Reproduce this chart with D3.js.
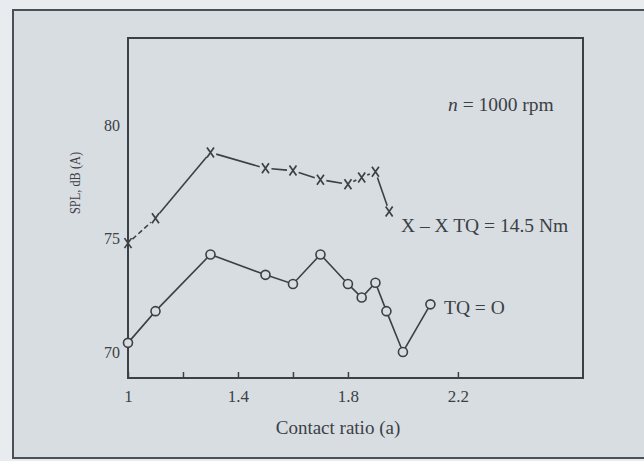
<!DOCTYPE html>
<html>
<head>
<meta charset="utf-8">
<script src="https://cdn.jsdelivr.net/npm/d3@7"></script>
<style>
  body { margin: 0; background: #e9ecee; }
  svg text { font-family: "Liberation Serif", "DejaVu Serif", serif; fill: #3b4046; }
</style>
</head>
<body>
<svg id="chart" width="644" height="461"></svg>
<script>
// contact ratio values for each series
const ratiosNoLoad = [1.0, 1.1, 1.3, 1.5, 1.6, 1.7, 1.8, 1.85, 1.9, 1.94, 2.0, 2.1];
const splNoLoad = [70.4, 71.8, 74.3, 73.4, 73.0, 74.3, 73.0, 72.4, 73.05, 71.8, 70.0, 72.1];

const ratiosLoaded = [1.0, 1.1, 1.3, 1.5, 1.6, 1.7, 1.8, 1.85, 1.9, 1.95];
const splLoaded = [74.8, 75.9, 78.8, 78.1, 78.0, 77.6, 77.4, 77.7, 77.95, 76.2];

const xTicks = [1, 1.2, 1.4, 1.6, 1.8, 2.2];
const xLabels = ["1", "", "1.4", "", "1.8", "2.2"];
const yTicks = [70, 75, 80];

const svg = d3.select("#chart");
const bg = "#d8dde1";
const ink = "#3b4046";

// page frame
svg.append("rect")
  .attr("x", 13).attr("y", 10)
  .attr("width", 660).attr("height", 448)
  .attr("fill", bg)
  .attr("stroke", "#4b5056")
  .attr("stroke-width", 2);

const x = d3.scaleLinear().domain([1, 2.655]).range([128, 583]);
const y = d3.scaleLinear().domain([68.85, 83.85]).range([378, 38]);

// plot box
svg.append("rect")
  .attr("x", x(1)).attr("y", y(83.85))
  .attr("width", x(2.655) - x(1)).attr("height", y(68.85) - y(83.85))
  .attr("fill", "none")
  .attr("stroke", ink)
  .attr("stroke-width", 2);

// x axis, ticks pointing inward
const xAxis = svg.append("g")
  .attr("transform", `translate(0,${y(68.85)})`)
  .call(d3.axisBottom(x).tickValues(xTicks).tickSize(-6).tickPadding(12)
    .tickFormat((d, i) => xLabels[i]));
xAxis.select(".domain").remove();
xAxis.selectAll("line").attr("stroke", ink).attr("stroke-width", 1.5);
xAxis.selectAll("text").attr("font-size", 17).attr("font-family", "Liberation Serif");

// y axis labels only
const yAxis = svg.append("g")
  .attr("transform", `translate(${x(1)},0)`)
  .call(d3.axisLeft(y).tickValues(yTicks).tickSize(0).tickPadding(8));
yAxis.select(".domain").remove();
yAxis.selectAll("text").attr("font-size", 16).attr("font-family", "Liberation Serif");

// axis titles
svg.append("text")
  .attr("x", 338).attr("y", 434)
  .attr("text-anchor", "middle")
  .attr("font-size", 19)
  .text("Contact ratio (a)");

svg.append("text")
  .attr("transform", "translate(80,183) rotate(-90)")
  .attr("text-anchor", "middle")
  .attr("font-size", 15)
  .attr("textLength", 62)
  .attr("lengthAdjust", "spacingAndGlyphs")
  .text("SPL, dB (A)");

// loaded series: segments with gaps around the crosses
const loaded = ratiosLoaded.map((r, i) => ({ x: x(r), y: y(splLoaded[i]) }));
const gap = 6;
for (let i = 0; i < loaded.length - 1; i++) {
  const a = loaded[i], b = loaded[i + 1];
  const dx = b.x - a.x, dy = b.y - a.y;
  const len = Math.sqrt(dx * dx + dy * dy);
  if (len <= gap * 2) continue;
  const ux = dx / len, uy = dy / len;
  svg.append("line")
    .attr("x1", a.x + ux * gap).attr("y1", a.y + uy * gap)
    .attr("x2", b.x - ux * gap).attr("y2", b.y - uy * gap)
    .attr("stroke", ink)
    .attr("stroke-width", 1.6)
    .attr("stroke-dasharray", i === 0 ? "5,3" : null);
}

svg.append("g")
  .selectAll("path")
  .data(loaded)
  .enter()
  .append("path")
  .attr("d", d => `M${d.x - 3.5},${d.y - 5}L${d.x + 3.5},${d.y + 5}M${d.x + 3.5},${d.y - 5}L${d.x - 3.5},${d.y + 5}`)
  .attr("stroke", ink)
  .attr("stroke-width", 1.7)
  .attr("fill", "none");

// no-load series: line with open circles
const line = d3.line().x((d, i) => x(d)).y((d, i) => y(splNoLoad[i]));
svg.append("path")
  .attr("d", line(ratiosNoLoad))
  .attr("fill", "none")
  .attr("stroke", ink)
  .attr("stroke-width", 1.6);

svg.append("g")
  .selectAll("circle")
  .data(ratiosNoLoad)
  .enter()
  .append("circle")
  .attr("cx", d => x(d))
  .attr("cy", (d, i) => y(splNoLoad[i]))
  .attr("r", 4.5)
  .attr("fill", bg)
  .attr("stroke", ink)
  .attr("stroke-width", 1.6);

// annotations
const note = svg.append("text")
  .attr("x", 448).attr("y", 111)
  .attr("font-size", 19.5);
note.append("tspan").attr("font-style", "italic").text("n");
note.append("tspan").text(" = 1000 rpm");

svg.append("text")
  .attr("x", 401).attr("y", 232)
  .attr("font-size", 19.5)
  .text("X – X TQ = 14.5 Nm");

svg.append("text")
  .attr("x", 444).attr("y", 314)
  .attr("font-size", 19.5)
  .text("TQ = O");
</script>
</body>
</html>
